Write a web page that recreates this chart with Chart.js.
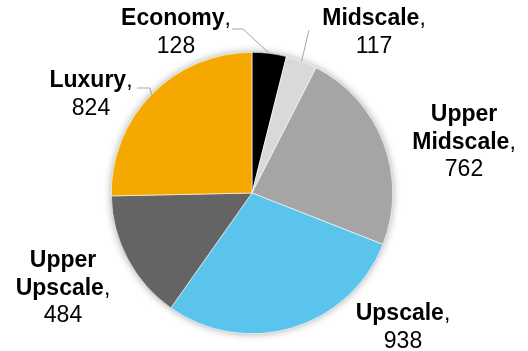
<!DOCTYPE html>
<html>
<head>
<meta charset="utf-8">
<script src="https://cdn.jsdelivr.net/npm/chart.js@4/dist/chart.umd.min.js"></script>
<style>
  html, body { margin: 0; padding: 0; background: #ffffff; }
  #wrap { width: 528px; height: 351px; position: relative; }
</style>
</head>
<body>
<div id="wrap"><canvas id="c" width="528" height="351"></canvas></div>
<script>
// Hotel segments by chain scale, with the number of properties in each
const categories = ['Economy', 'Midscale', 'Upper Midscale', 'Upscale', 'Upper Upscale', 'Luxury'];
const values = [128, 117, 762, 938, 484, 824];
const colors = ['#000000', '#D9D9D9', '#A5A5A5', '#5BC4EC', '#646464', '#F5A800'];

// Where each label block sits (centre x, first baseline y) and optional leader-line points
const labelLayout = [
  { x: 176, y: 25, leader: [[232, 29], [243, 29]] },
  { x: 374, y: 25, leader: [[309, 30]] },
  { x: 464, y: 121 },
  { x: 403, y: 320 },
  { x: 63,  y: 267 },
  { x: 91,  y: 87, leader: [[137, 88], [150, 88]] }
];

const FONT_SIZE = 23;
const LINE_H = 27.5;
const FAMILY = '"Liberation Sans", Arial, sans-serif';

// Soft shadow under the whole pie
const pieShadow = {
  id: 'pieShadow',
  beforeDatasetsDraw(chart) {
    const arc = chart.getDatasetMeta(0).data[0];
    if (!arc) return;
    const { x, y, outerRadius } = arc.getProps(['x', 'y', 'outerRadius'], true);
    const ctx = chart.ctx;
    ctx.save();
    ctx.shadowColor = 'rgba(0,0,0,0.4)';
    ctx.shadowBlur = 8;
    ctx.beginPath();
    ctx.arc(x, y, outerRadius - 0.5, 0, Math.PI * 2);
    ctx.fillStyle = '#ffffff';
    ctx.fill();
    ctx.restore();
  }
};

// Category labels: bold name, regular comma, value on its own line
const sliceLabels = {
  id: 'sliceLabels',
  afterDatasetsDraw(chart) {
    const ctx = chart.ctx;
    const meta = chart.getDatasetMeta(0);
    ctx.save();
    meta.data.forEach((arc, i) => {
      const lay = labelLayout[i];
      const p = arc.getProps(['x', 'y', 'startAngle', 'endAngle', 'outerRadius'], true);
      // leader line from label to the slice edge
      if (lay.leader) {
        const mid = (p.startAngle + p.endAngle) / 2;
        const ex = p.x + Math.cos(mid) * p.outerRadius;
        const ey = p.y + Math.sin(mid) * p.outerRadius;
        ctx.beginPath();
        ctx.moveTo(lay.leader[0][0], lay.leader[0][1]);
        for (let k = 1; k < lay.leader.length; k++) ctx.lineTo(lay.leader[k][0], lay.leader[k][1]);
        ctx.lineTo(ex, ey);
        ctx.strokeStyle = '#A6A6A6';
        ctx.lineWidth = 1;
        ctx.stroke();
      }
      const words = categories[i].split(' ');
      const bold = 'bold ' + FONT_SIZE + 'px ' + FAMILY;
      const reg = FONT_SIZE + 'px ' + FAMILY;
      ctx.fillStyle = '#000000';
      ctx.textBaseline = 'alphabetic';
      ctx.textAlign = 'left';
      let y = lay.y;
      words.forEach((w, k) => {
        const last = k === words.length - 1;
        ctx.font = bold;
        const wb = ctx.measureText(w).width;
        ctx.font = reg;
        const wc = last ? ctx.measureText(',').width : 0;
        const x0 = lay.x - (wb + wc) / 2;
        ctx.font = bold;
        ctx.fillText(w, x0, y);
        if (last) {
          ctx.font = reg;
          ctx.fillText(',', x0 + wb, y);
        }
        y += LINE_H;
      });
      ctx.font = reg;
      ctx.textAlign = 'center';
      ctx.fillText(String(values[i]), lay.x, y);
    });
    ctx.restore();
  }
};

new Chart(document.getElementById('c'), {
  type: 'pie',
  data: {
    labels: categories,
    datasets: [{
      data: values,
      backgroundColor: colors,
      borderColor: '#ffffff',
      borderWidth: 0.6,
      hoverOffset: 0
    }]
  },
  options: {
    responsive: false,
    animation: false,
    events: [],
    layout: { padding: { left: 0, right: 24, top: 52, bottom: 17 } },
    plugins: {
      legend: { display: false },
      tooltip: { enabled: false }
    }
  },
  plugins: [pieShadow, sliceLabels]
});
</script>
</body>
</html>
